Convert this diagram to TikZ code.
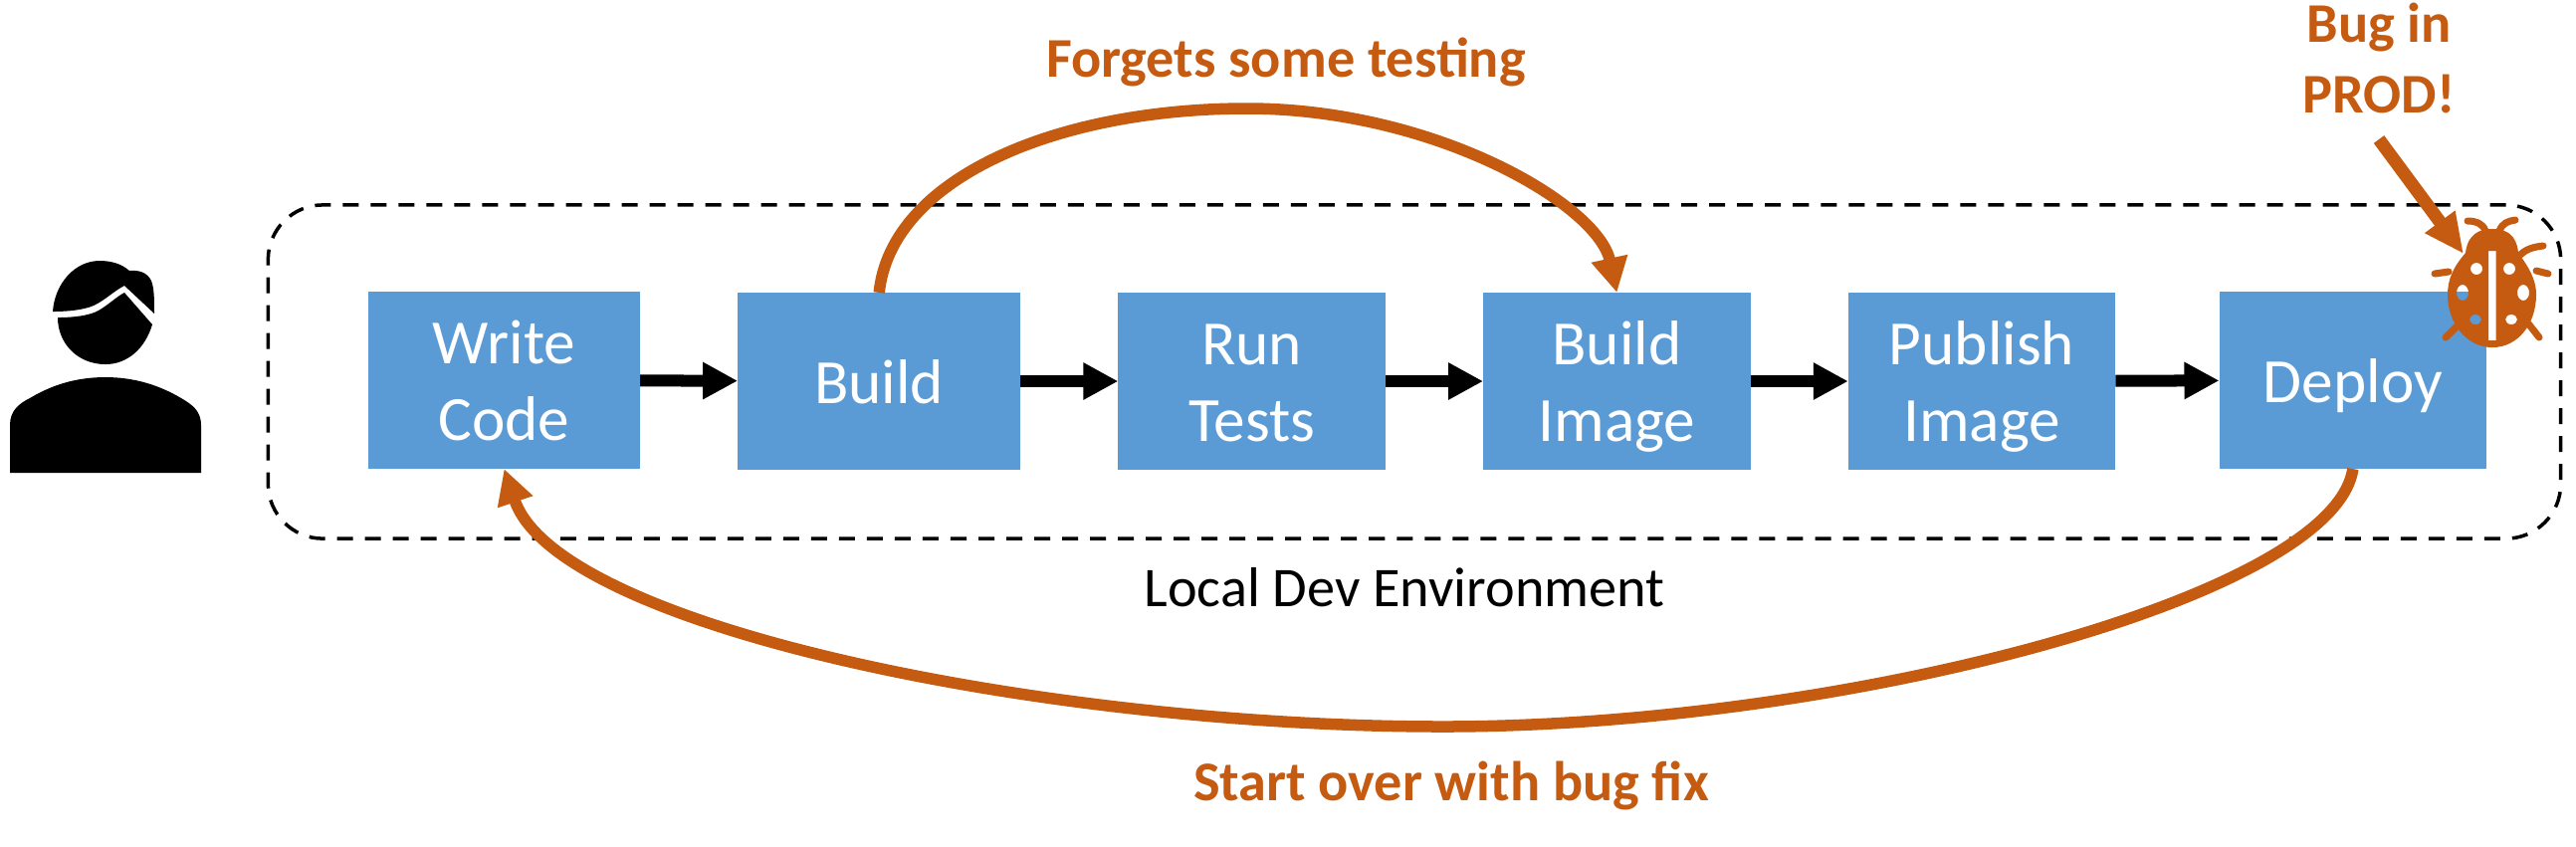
\documentclass[tikz,border=0pt]{standalone}
\usepackage{fontspec}
\setmainfont{Carlito}
\usetikzlibrary{arrows.meta, positioning}
\definecolor{BoxFill}{HTML}{5B9BD5}
\definecolor{BugLine}{HTML}{C55A11}

\begin{document}
\begin{tikzpicture}[
    x=0.01cm, y=-0.01cm,
    stage/.style={
        rectangle, minimum width=2.685cm, minimum height=1.78cm,
        fill=BoxFill, text=white, inner sep=0pt, outer sep=0pt, align=center,
        text height=0.54cm, text depth=0.1cm,
        font=\fontsize{18}{21.8}\selectfont
    },
    stagetwo/.style={stage, text height=1.3cm, text depth=0.1cm},
    envbox/.style={
        rectangle, rounded corners=0.55cm, minimum width=23.02cm,
        minimum height=3.35cm, draw=black, line width=0.35mm,
        dash pattern=on 1.6mm off 1.2mm
    },
    note/.style={
        font=\fontsize{16}{20.2}\selectfont\bfseries, text=BugLine,
        align=center, inner sep=0pt
    },
    arr/.style={-{Triangle[length=3.5mm, width=3.5mm]}, line width=1.2mm},
    backarr/.style={-{Triangle[length=3.5mm, width=3.5mm]}, line width=1.15mm, draw=BugLine},
    bugarr/.style={-{Triangle[length=4mm, width=3.5mm]}, line width=1.3mm, draw=BugLine},
    node distance=0.98cm
]
\useasboundingbox (0,0) rectangle (2588,850);

% ===================================================================
% ENVIRONMENT
% ===================================================================
\node[envbox] (env) at (1421,373.5) {};
\node[inner sep=0pt, font=\fontsize{16}{20.2}\selectfont, below=0.27cm of env, xshift=-0.1cm] (envlabel) {Local Dev Environment};

% ===================================================================
% STAGES
% ===================================================================
\node[stagetwo, minimum width=2.73cm] (write) at (506.5,382) {Write\\Code};
\node[stage, minimum width=2.84cm, right=of write, yshift=-0.01cm] (build) {Build};
\node[stagetwo, right=of build] (tests) {Run\\Tests};
\node[stagetwo, right=of tests] (image) {Build\\Image};
\node[stagetwo, right=of image] (publish) {Publish\\Image};
\node[stage, right=1.04cm of publish, yshift=0.01cm] (deploy) {Deploy};

\draw[arr] (write) -- (build);
\draw[arr] (build) -- (tests);
\draw[arr] (tests) -- (image);
\draw[arr] (image) -- (publish);
\draw[arr] (publish) -- (deploy);

% ===================================================================
% LOOPS
% ===================================================================
\node[note] (skip) at (1292,62) {Forgets some testing};
\node[note] (restart) at (1458,789) {Start over with bug fix};

\coordinate (skiptop) at (1253,109);
\coordinate (restartlow) at (1450,730);
\draw[backarr] (build.north) .. controls (895,180) and (1060,109) .. (skiptop)
    .. controls (1440,109) and (1605,205) .. (image.north);
\draw[backarr] (deploy.south) .. controls (2345,600) and (1850,730) .. (restartlow)
    .. controls (1050,730) and (560,630) .. (write.south);

% ===================================================================
% BUG
% ===================================================================
\node[note] (prod) at (2390,58) {Bug in\\PROD!};
\coordinate (bug) at (2475,255);

\fill[BugLine, even odd rule]
    (2504,230) .. controls (2482,230) and (2478,245) .. (2477,254)
    .. controls (2465,268) and (2459,280) .. (2459,296)
    .. controls (2459,325) and (2478,349) .. (2504,349)
    .. controls (2530,349) and (2548,325) .. (2548,296)
    .. controls (2548,280) and (2540,268) .. (2530,254)
    .. controls (2529,245) and (2526,230) .. (2504,230) -- cycle
    (2500,252) rectangle (2507.5,342)
    (2488,270) circle [x radius=6, y radius=6]
    (2521,270) circle [x radius=6, y radius=6]
    (2474,294) circle [x radius=6, y radius=8]
    (2535,294) circle [x radius=6, y radius=8]
    (2487,321) circle [x radius=6, y radius=5]
    (2523,321) circle [x radius=6, y radius=5];
\draw[BugLine, line width=0.7mm, line cap=round]
    (2497,232) .. controls (2494,224) and (2487,222) .. (2479,222)
    (2511,232) .. controls (2514,224) and (2520,222) .. (2527,221)
    (2532,256) .. controls (2538,250) and (2546,248) .. (2555,247)
    (2460,273) -- (2446,275)
    (2548,272) -- (2560,275)
    (2468,328) -- (2457,339)
    (2540,325) -- (2551,339);
\draw[bugarr] (prod) ++(0,82) -- (bug);

% ===================================================================
% USER
% ===================================================================
\fill[black] (53,313) .. controls (70,313) and (85,311) .. (94,307)
    .. controls (105,302) and (115,292) .. (125,287) -- (155,315)
    .. controls (155,300) and (155,290) .. (152,282)
    .. controls (148,274) and (140,271) .. (130,272)
    .. controls (122,265) and (112,262) .. (100,262)
    .. controls (75,262) and (55,285) .. (53,313) -- cycle;
\fill[black] (58,319) .. controls (75,319) and (88,317) .. (97,313)
    .. controls (107,308) and (117,298) .. (125,294) -- (153,326)
    .. controls (146,350) and (128,366) .. (106,366)
    .. controls (78,366) and (58,345) .. (58,319) -- cycle;
\fill[black] (10,475) -- (10,427) .. controls (10,412) and (20,405) .. (30,400)
    .. controls (55,385) and (80,379) .. (106,379)
    .. controls (135,379) and (160,387) .. (182,400)
    .. controls (192,406) and (202,412) .. (202,427) -- (202,475) -- cycle;

\end{tikzpicture}
\end{document}
